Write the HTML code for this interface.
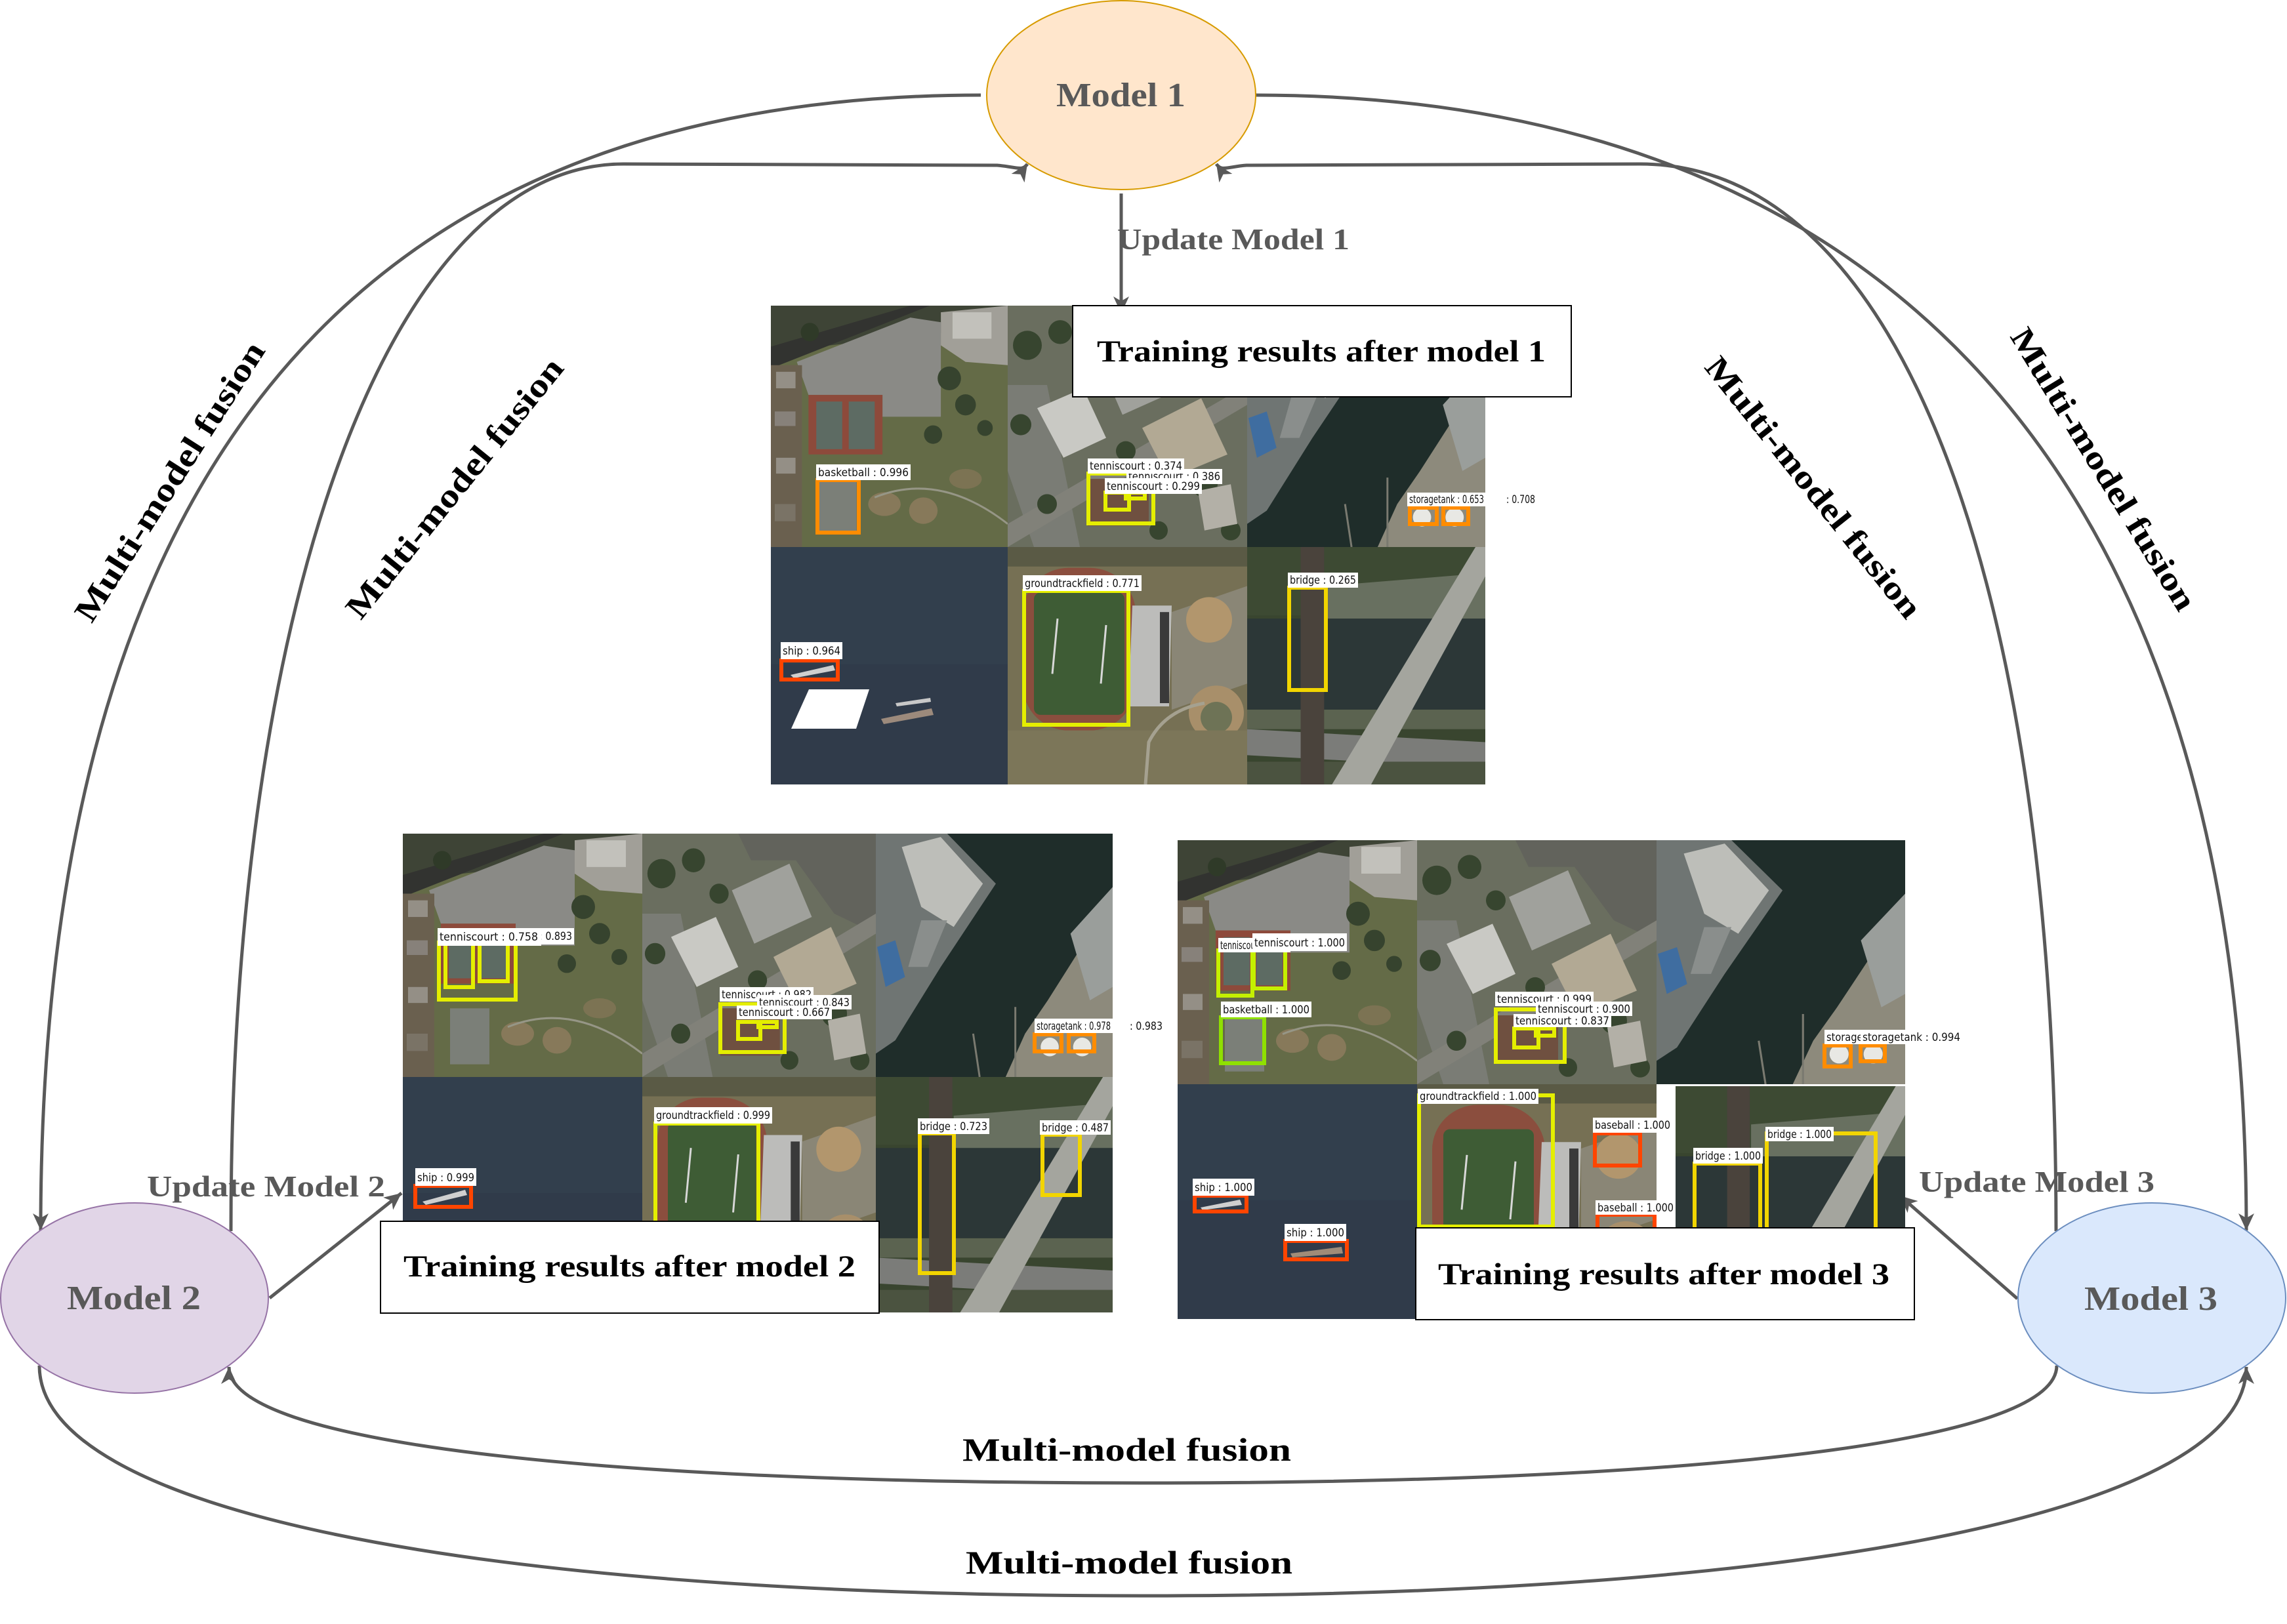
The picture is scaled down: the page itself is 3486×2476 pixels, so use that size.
<!DOCTYPE html>
<html><head><meta charset="utf-8"><style>
html,body{margin:0;padding:0;background:#fff;}
svg{display:block;}
.c{fill:none;stroke:#595959;stroke-width:5;}
.t{font-family:"Liberation Serif",serif;font-weight:bold;}
.g{fill:#595959;}
.k{fill:#000;}
.lb rect{fill:#fff;}
.lb rect.bo{fill:none;}
.lb text{font-family:"DejaVu Sans",sans-serif;font-size:17px;fill:#111;}
.bo{fill:none;stroke-width:6;}
.o{stroke:#ff8c00;} .y{stroke:#e4ee00;} .r{stroke:#ff4500;} .gd{stroke:#f2d500;} .yg{stroke:#c4f000;} .gr{stroke:#8fe000;}
</style></head><body>
<svg width="3486" height="2476" viewBox="0 0 3486 2476" xmlns="http://www.w3.org/2000/svg">
<defs>
<marker id="ah" markerWidth="30" markerHeight="24" viewBox="0 0 30 24" refX="26" refY="12" orient="auto" markerUnits="userSpaceOnUse">
<path d="M26,12 L0,0 L7,12 L0,24 Z" fill="#595959"/>
</marker>
<symbol id="tA" viewBox="0 0 365 365" preserveAspectRatio="none">
<rect width="365" height="365" fill="#646b47"/>
<polygon points="0,0 365,0 365,30 0,70" fill="#3e4436"/>
<polygon points="0,62 215,0 245,0 0,95" fill="#323330"/>
<polygon points="40,85 215,18 262,25 262,168 172,168 172,135 58,135" fill="#8a8a86"/>
<polygon points="262,10 365,0 365,90 300,85 262,60" fill="#a19f98"/>
<rect x="280" y="10" width="60" height="40" fill="#c2c1bb"/>
<rect x="0" y="90" width="48" height="275" fill="#6a604f"/>
<rect x="8" y="100" width="30" height="25" fill="#948f86"/>
<rect x="6" y="160" width="32" height="22" fill="#87817a"/>
<rect x="8" y="230" width="30" height="24" fill="#948f86"/>
<rect x="6" y="300" width="32" height="26" fill="#7a7366"/>
<circle cx="275" cy="110" r="18" fill="#36432e"/>
<circle cx="300" cy="150" r="16" fill="#36432e"/>
<circle cx="250" cy="195" r="14" fill="#36432e"/>
<circle cx="330" cy="185" r="12" fill="#36432e"/>
<circle cx="60" cy="40" r="14" fill="#2f3a28"/>
<rect x="58" y="135" width="114" height="90" fill="#8d4a3b"/>
<rect x="70" y="145" width="40" height="72" fill="#5d6b63"/>
<rect x="120" y="145" width="40" height="72" fill="#5d6b63"/>
<rect x="72" y="262" width="60" height="84" fill="#7b7f78"/>
<ellipse cx="175" cy="300" rx="25" ry="18" fill="#87795a"/>
<ellipse cx="235" cy="310" rx="22" ry="20" fill="#87795a"/>
<ellipse cx="300" cy="262" rx="25" ry="15" fill="#7c7353"/>
<path d="M160,290 Q 260,250 365,330" stroke="#969686" stroke-width="3" fill="none"/>
</symbol>
<symbol id="tB" viewBox="0 0 365 365" preserveAspectRatio="none">
<rect width="365" height="365" fill="#6a6e5f"/>
<polygon points="150,0 365,0 365,150 300,120 240,40 170,40" fill="#62635c"/>
<polygon points="0,120 60,120 110,365 40,365 0,250" fill="#7a7c75"/>
<polygon points="0,330 365,120 365,150 0,365" fill="#818179"/>
<polygon points="140,85 230,45 265,125 175,165" fill="#a0a19c"/>
<polygon points="45,155 115,125 150,200 85,230" fill="#c9c9c4"/>
<polygon points="205,185 295,140 335,225 245,262" fill="#b2a994"/>
<circle cx="30" cy="60" r="22" fill="#37452f"/>
<circle cx="80" cy="40" r="18" fill="#37452f"/>
<circle cx="120" cy="90" r="15" fill="#37452f"/>
<circle cx="20" cy="180" r="16" fill="#37452f"/>
<circle cx="180" cy="220" r="15" fill="#37452f"/>
<circle cx="300" cy="270" r="20" fill="#37452f"/>
<circle cx="60" cy="300" r="15" fill="#37452f"/>
<circle cx="340" cy="340" r="15" fill="#37452f"/>
<circle cx="230" cy="340" r="14" fill="#37452f"/>
<polygon points="122,262 215,262 215,333 122,333" fill="#6f5040"/>
<polygon points="290,280 340,270 350,330 300,340" fill="#b3b0a7"/>
</symbol>
<symbol id="tC" viewBox="0 0 365 365" preserveAspectRatio="none">
<rect width="365" height="365" fill="#1f2d2a"/>
<polygon points="0,0 110,0 185,75 100,200 30,310 0,330" fill="#6f7573"/>
<polygon points="40,20 100,5 165,75 120,140 70,110" fill="#bdbeb9"/>
<polygon points="70,130 110,130 80,200 50,200" fill="#8a8e8c"/>
<polygon points="2,170 30,160 45,215 15,230" fill="#3f6da0"/>
<polygon points="365,100 330,150 265,250 230,300 200,365 365,365" fill="#8d8a7c"/>
<polygon points="300,150 365,80 365,230 330,250" fill="#9a9e9b"/>
<line x1="215" y1="260" x2="215" y2="365" stroke="#7a7a70" stroke-width="3"/>
<line x1="150" y1="300" x2="160" y2="365" stroke="#7a7a70" stroke-width="3"/>
<circle cx="268" cy="320" r="14" fill="#e8e8e4"/>
<circle cx="318" cy="320" r="14" fill="#e8e8e4"/>
</symbol>
<symbol id="tD" viewBox="0 0 365 365" preserveAspectRatio="none">
<rect width="365" height="365" fill="#323f4d"/>
<rect y="180" width="365" height="185" fill="#2f3b48" opacity="0.7"/>
</symbol>
<symbol id="tE" viewBox="0 0 365 365" preserveAspectRatio="none">
<rect width="365" height="365" fill="#767054"/>
<rect x="0" y="0" width="365" height="30" fill="#5a5a45"/>
<polygon points="250,100 365,60 365,210 250,250" fill="#8a8676"/>
<rect x="23" y="32" width="172" height="250" rx="70" fill="#8b4e3e"/>
<rect x="40" y="70" width="138" height="188" rx="10" fill="#3e5c35"/>
<line x1="76" y1="110" x2="68" y2="195" stroke="#d8d8d8" stroke-width="3"/>
<line x1="150" y1="120" x2="142" y2="210" stroke="#d8d8d8" stroke-width="3"/>
<polygon points="190,90 250,90 246,245 184,245" fill="#bcbcba"/>
<rect x="232" y="100" width="14" height="140" fill="#3a3a3a"/>
<circle cx="307" cy="112" r="35" fill="#b2966d"/>
<circle cx="318" cy="255" r="42" fill="#a88f6a"/>
<circle cx="318" cy="262" r="24" fill="#6e7356"/>
<polygon points="0,282 365,282 365,365 0,365" fill="#7c7659"/>
<path d="M210,365 L215,300 Q 240,250 300,240" stroke="#a5a190" stroke-width="5" fill="none"/>
</symbol>
<symbol id="tF" viewBox="0 0 365 365" preserveAspectRatio="none">
<rect width="365" height="365" fill="#39452f"/>
<rect y="0" width="365" height="105" fill="#3d4a33"/>
<polygon points="120,60 365,40 365,130 120,120" fill="#687060"/>
<rect x="0" y="110" width="365" height="140" fill="#2c3737"/>
<rect x="0" y="250" width="365" height="30" fill="#5b6350"/>
<polygon points="0,280 365,300 365,340 0,320" fill="#7b7c79"/>
<rect x="0" y="330" width="365" height="35" fill="#4b5340"/>
<rect x="82" y="0" width="36" height="365" fill="#4a433c"/>
<polygon points="130,365 190,365 365,45 365,0 350,0" fill="#a4a59e"/>
</symbol>
</defs>

<!-- connectors -->
<path class="c" d="M 1495 145 C 600 145, 62 650, 62 1876" marker-end="url(#ah)"/>
<path class="c" d="M 352 1877 C 352 900, 600 250, 950 250 L 1520 252 C 1548 254, 1558 262, 1566 250" marker-end="url(#ah)"/>
<path class="c" d="M 1914 145 C 2800 145, 3424 650, 3424 1876" marker-end="url(#ah)"/>
<path class="c" d="M 3134 1877 C 3134 900, 2900 250, 2500 250 L 1900 252 C 1872 254, 1862 262, 1854 250" marker-end="url(#ah)"/>
<path class="c" d="M 1709 295 L 1709 478" marker-end="url(#ah)"/>
<path class="c" d="M 411 1979 L 612 1819" marker-end="url(#ah)"/>
<path class="c" d="M 3075 1980 L 2896 1823" marker-end="url(#ah)"/>
<path class="c" d="M 3135 2082 C 3135 2200, 2584 2261, 1742 2261 C 900 2261, 349 2200, 349 2084" marker-end="url(#ah)"/>
<path class="c" d="M 60 2082 C 60 2300, 700 2433, 1742 2433 C 2784 2433, 3424 2300, 3424 2084" marker-end="url(#ah)"/>

<!-- ellipses -->
<ellipse cx="1709" cy="145" rx="205" ry="144" fill="#ffe6cc" stroke="#d79b00" stroke-width="2"/>
<ellipse cx="205" cy="1979" rx="204" ry="145" fill="#e1d5e7" stroke="#9673a6" stroke-width="2"/>
<ellipse cx="3280" cy="1979" rx="204" ry="145" fill="#dae8fc" stroke="#6c8ebf" stroke-width="2"/>

<!-- PANEL 1 -->
<use href="#tA" x="1175" y="466" width="361" height="368"/>
<use href="#tB" x="1536" y="466" width="365" height="368"/>
<use href="#tC" x="1901" y="466" width="363" height="368"/>
<use href="#tD" x="1175" y="834" width="361" height="362"/>
<use href="#tE" x="1536" y="834" width="365" height="362"/>
<use href="#tF" x="1901" y="834" width="363" height="362"/>

<g transform="translate(1175,466)" class="lb">
<rect class="bo o" x="71" y="266" width="63" height="80"/>
<rect x="69" y="242" width="144" height="24"/><text x="72" y="260" textLength="138" lengthAdjust="spacingAndGlyphs">basketball : 0.996</text>
</g>
<g transform="translate(1536,466)" class="lb">
<rect class="bo y" x="123" y="256" width="99" height="76"/>
<rect class="bo y" x="149" y="285" width="36" height="26"/>
<rect class="bo y" x="180" y="285" width="29" height="9"/>
<rect x="181" y="249" width="146" height="23"/><text x="184" y="266" textLength="140" lengthAdjust="spacingAndGlyphs">tenniscourt : 0.386</text>
<rect x="122" y="233" width="147" height="23"/><text x="125" y="250" textLength="141" lengthAdjust="spacingAndGlyphs">tenniscourt : 0.374</text>
<rect x="148" y="263" width="148" height="24"/><text x="151" y="281" textLength="142" lengthAdjust="spacingAndGlyphs">tenniscourt : 0.299</text>
</g>
<g transform="translate(1901,466)" class="lb">
<rect class="bo o" x="248" y="308" width="41" height="25"/>
<rect class="bo o" x="299" y="308" width="38" height="25"/>
<rect x="244" y="285" width="120" height="21"/><text x="247" y="301" textLength="114" lengthAdjust="spacingAndGlyphs">storagetank : 0.653</text>
<text x="395" y="301" textLength="44" lengthAdjust="spacingAndGlyphs">: 0.708</text>
</g>
<g transform="translate(1175,834)" class="lb">
<polygon points="30,195 95,180 98,188 35,200" fill="#cfcfcf"/>
<polygon points="31,277 58,217 150,217 130,277" fill="#fff"/>
<polygon points="168,262 245,246 248,256 172,270" fill="#9c8a7c"/>
<polygon points="190,238 243,230 244,236 192,243" fill="#c8c8c8"/>
<rect class="bo r" x="16" y="173" width="86" height="29"/>
<rect x="15" y="145" width="94" height="26"/><text x="18" y="164" textLength="88" lengthAdjust="spacingAndGlyphs">ship : 0.964</text>
</g>
<g transform="translate(1536,834)" class="lb">
<rect class="bo y" x="25" y="67" width="159" height="204"/>
<rect x="23" y="43" width="181" height="24"/><text x="26" y="61" textLength="175" lengthAdjust="spacingAndGlyphs">groundtrackfield : 0.771</text>
</g>
<g transform="translate(1901,834)" class="lb">
<rect class="bo gd" x="64" y="62" width="56" height="156"/>
<rect x="62" y="39" width="107" height="23"/><text x="65" y="56" textLength="101" lengthAdjust="spacingAndGlyphs">bridge : 0.265</text>
</g>
<rect x="1635" y="466" width="760" height="139" fill="#fff" stroke="#000" stroke-width="2"/>
<text class="t k" x="1672" y="551" font-size="47" textLength="684" lengthAdjust="spacingAndGlyphs">Training results after model 1</text>

<!-- PANEL 2 -->
<use href="#tA" x="614" y="1271" width="365" height="371"/>
<use href="#tB" x="979" y="1271" width="356" height="371"/>
<use href="#tC" x="1335" y="1271" width="361" height="371"/>
<use href="#tD" x="614" y="1642" width="365" height="359"/>
<use href="#tE" x="979" y="1642" width="356" height="359"/>
<use href="#tF" x="1335" y="1642" width="361" height="359"/>

<g transform="translate(614,1271)" class="lb">
<rect class="bo y" x="55" y="166" width="117" height="87"/>
<rect class="bo y" x="65" y="168" width="42" height="66"/>
<rect class="bo y" x="117" y="168" width="43" height="57"/>
<rect x="120" y="144" width="141" height="25"/><text x="123" y="162" textLength="135" lengthAdjust="spacingAndGlyphs">tenniscourt : 0.893</text>
<rect x="53" y="144" width="158" height="27"/><text x="56" y="163" textLength="150" lengthAdjust="spacingAndGlyphs">tenniscourt : 0.758</text>
</g>
<g transform="translate(979,1271)" class="lb">
<rect class="bo y" x="119" y="260" width="98" height="73"/>
<rect class="bo y" x="146" y="287" width="34" height="26"/>
<rect class="bo y" x="177" y="287" width="28" height="8"/>
<rect x="118" y="234" width="143" height="22"/><text x="121" y="251" textLength="137" lengthAdjust="spacingAndGlyphs">tenniscourt : 0.982</text>
<rect x="175" y="246" width="144" height="22"/><text x="178" y="263" textLength="138" lengthAdjust="spacingAndGlyphs">tenniscourt : 0.843</text>
<rect x="144" y="262" width="145" height="21"/><text x="147" y="278" textLength="139" lengthAdjust="spacingAndGlyphs">tenniscourt : 0.667</text>
</g>
<g transform="translate(1335,1271)" class="lb">
<rect class="bo o" x="242" y="306" width="41" height="26"/>
<rect class="bo o" x="294" y="306" width="39" height="26"/>
<rect x="242" y="282" width="119" height="22"/><text x="245" y="299" textLength="113" lengthAdjust="spacingAndGlyphs">storagetank : 0.978</text>
<text x="387" y="299" textLength="50" lengthAdjust="spacingAndGlyphs">: 0.983</text>
</g>
<g transform="translate(614,1642)" class="lb">
<polygon points="30,190 95,172 98,180 35,195" fill="#cfcfcf"/>
<rect class="bo r" x="19" y="166" width="85" height="32"/>
<rect x="19" y="139" width="93" height="27"/><text x="22" y="159" textLength="87" lengthAdjust="spacingAndGlyphs">ship : 0.999</text>
</g>
<g transform="translate(979,1642)" class="lb">
<rect class="bo y" x="20" y="71" width="157" height="200"/>
<rect x="18" y="46" width="180" height="25"/><text x="21" y="64" textLength="174" lengthAdjust="spacingAndGlyphs">groundtrackfield : 0.999</text>
</g>
<g transform="translate(1335,1642)" class="lb">
<rect class="bo gd" x="67" y="86" width="52" height="213"/>
<rect class="bo gd" x="254" y="88" width="57" height="92"/>
<rect x="64" y="63" width="109" height="24"/><text x="67" y="81" textLength="103" lengthAdjust="spacingAndGlyphs">bridge : 0.723</text>
<rect x="250" y="66" width="108" height="22"/><text x="253" y="83" textLength="102" lengthAdjust="spacingAndGlyphs">bridge : 0.487</text>
</g>
<rect x="580" y="1862" width="760" height="140" fill="#fff" stroke="#000" stroke-width="2"/>
<text class="t k" x="615" y="1946" font-size="47" textLength="689" lengthAdjust="spacingAndGlyphs">Training results after model 2</text>

<!-- PANEL 3 -->
<use href="#tA" x="1795" y="1281" width="365" height="372"/>
<use href="#tB" x="2160" y="1281" width="365" height="372"/>
<use href="#tC" x="2525" y="1281" width="379" height="372"/>
<use href="#tD" x="1795" y="1653" width="365" height="358"/>
<use href="#tE" x="2160" y="1653" width="365" height="358"/>
<use href="#tF" x="2554" y="1656" width="350" height="355"/>

<g transform="translate(1795,1281)" class="lb">
<rect class="bo yg" x="62" y="168" width="52" height="69"/>
<rect class="bo yg" x="116" y="166" width="48" height="60"/>
<rect class="bo gr" x="66" y="270" width="66" height="70"/>
<rect x="62" y="149" width="110" height="22"/><text x="65" y="166" textLength="104" lengthAdjust="spacingAndGlyphs">tenniscourt : 1.000</text>
<rect x="114" y="142" width="144" height="27"/><text x="117" y="162" textLength="138" lengthAdjust="spacingAndGlyphs">tenniscourt : 1.000</text>
<rect x="66" y="246" width="138" height="24"/><text x="69" y="264" textLength="132" lengthAdjust="spacingAndGlyphs">basketball : 1.000</text>
</g>
<g transform="translate(2160,1281)" class="lb">
<rect class="bo y" x="120" y="258" width="105" height="80"/>
<rect class="bo y" x="148" y="287" width="37" height="29"/>
<rect class="bo y" x="181" y="287" width="28" height="11"/>
<rect x="119" y="231" width="150" height="22"/><text x="122" y="248" textLength="144" lengthAdjust="spacingAndGlyphs">tenniscourt : 0.999</text>
<rect x="181" y="246" width="147" height="22"/><text x="184" y="263" textLength="141" lengthAdjust="spacingAndGlyphs">tenniscourt : 0.900</text>
<rect x="147" y="265" width="149" height="20"/><text x="150" y="281" textLength="143" lengthAdjust="spacingAndGlyphs">tenniscourt : 0.837</text>
</g>
<g transform="translate(2525,1281)" class="lb">
<rect class="bo o" x="256" y="313" width="40" height="32"/>
<rect class="bo o" x="311" y="313" width="37" height="24"/>
<rect x="256" y="289" width="150" height="22"/><text x="259" y="306" textLength="144" lengthAdjust="spacingAndGlyphs">storagetank : 0.994</text>
<rect x="311" y="289" width="155" height="22"/><text x="314" y="306" textLength="149" lengthAdjust="spacingAndGlyphs">storagetank : 0.994</text>
</g>
<g transform="translate(1795,1653)" class="lb">
<polygon points="35,188 95,176 98,184 38,192" fill="#cfcfcf"/>
<polygon points="172,258 250,248 252,258 175,264" fill="#a08c78"/>
<rect class="bo r" x="26" y="170" width="79" height="24"/>
<rect class="bo r" x="164" y="239" width="94" height="28"/>
<rect x="23" y="144" width="94" height="26"/><text x="26" y="163" textLength="88" lengthAdjust="spacingAndGlyphs">ship : 1.000</text>
<rect x="163" y="213" width="94" height="26"/><text x="166" y="232" textLength="88" lengthAdjust="spacingAndGlyphs">ship : 1.000</text>
</g>
<g transform="translate(2160,1653)" class="lb">
<rect class="bo y" x="3" y="17" width="204" height="200"/>
<rect class="bo r" x="271" y="75" width="69" height="49"/>
<rect class="bo r" x="275" y="199" width="87" height="30"/>
<rect x="1" y="7" width="184" height="23"/><text x="4" y="24" textLength="178" lengthAdjust="spacingAndGlyphs">groundtrackfield : 1.000</text>
<rect x="268" y="51" width="121" height="23"/><text x="271" y="68" textLength="115" lengthAdjust="spacingAndGlyphs">baseball : 1.000</text>
<rect x="272" y="177" width="122" height="22"/><text x="275" y="194" textLength="116" lengthAdjust="spacingAndGlyphs">baseball : 1.000</text>
</g>
<g transform="translate(2554,1656)" class="lb">
<rect class="bo gd" x="29" y="118" width="100" height="220"/>
<rect class="bo gd" x="139" y="72" width="166" height="250"/>
<rect x="27" y="94" width="106" height="24"/><text x="30" y="112" textLength="100" lengthAdjust="spacingAndGlyphs">bridge : 1.000</text>
<rect x="137" y="62" width="104" height="22"/><text x="140" y="79" textLength="98" lengthAdjust="spacingAndGlyphs">bridge : 1.000</text>
</g>
<rect x="2158" y="1872" width="760" height="140" fill="#fff" stroke="#000" stroke-width="2"/>
<text class="t k" x="2192" y="1958" font-size="47" textLength="688" lengthAdjust="spacingAndGlyphs">Training results after model 3</text>

<!-- node labels -->
<text class="t g" x="1610" y="162" font-size="52" textLength="197" lengthAdjust="spacingAndGlyphs">Model 1</text>
<text class="t g" x="102" y="1996" font-size="52" textLength="204" lengthAdjust="spacingAndGlyphs">Model 2</text>
<text class="t g" x="3177" y="1997" font-size="52" textLength="203" lengthAdjust="spacingAndGlyphs">Model 3</text>

<text class="t g" x="1703" y="380" font-size="46" textLength="354" lengthAdjust="spacingAndGlyphs">Update Model 1</text>
<text class="t g" x="224" y="1824" font-size="46" textLength="363" lengthAdjust="spacingAndGlyphs">Update Model 2</text>
<text class="t g" x="2925" y="1817" font-size="46" textLength="359" lengthAdjust="spacingAndGlyphs">Update Model 3</text>

<!-- fusion labels -->
<g transform="translate(260,735) rotate(-57.5)"><text class="t k" x="0" y="15" font-size="50" text-anchor="middle" textLength="495" lengthAdjust="spacingAndGlyphs">Multi-model fusion</text></g>
<g transform="translate(694,745) rotate(-51)"><text class="t k" x="0" y="15" font-size="50" text-anchor="middle" textLength="495" lengthAdjust="spacingAndGlyphs">Multi-model fusion</text></g>
<g transform="translate(2763,744) rotate(51.3)"><text class="t k" x="0" y="15" font-size="50" text-anchor="middle" textLength="495" lengthAdjust="spacingAndGlyphs">Multi-model fusion</text></g>
<g transform="translate(3205,716) rotate(58.5)"><text class="t k" x="0" y="15" font-size="50" text-anchor="middle" textLength="495" lengthAdjust="spacingAndGlyphs">Multi-model fusion</text></g>
<text class="t k" x="1467" y="2227" font-size="50" textLength="501" lengthAdjust="spacingAndGlyphs">Multi-model fusion</text>
<text class="t k" x="1472" y="2399" font-size="50" textLength="498" lengthAdjust="spacingAndGlyphs">Multi-model fusion</text>
</svg>
</body></html>
